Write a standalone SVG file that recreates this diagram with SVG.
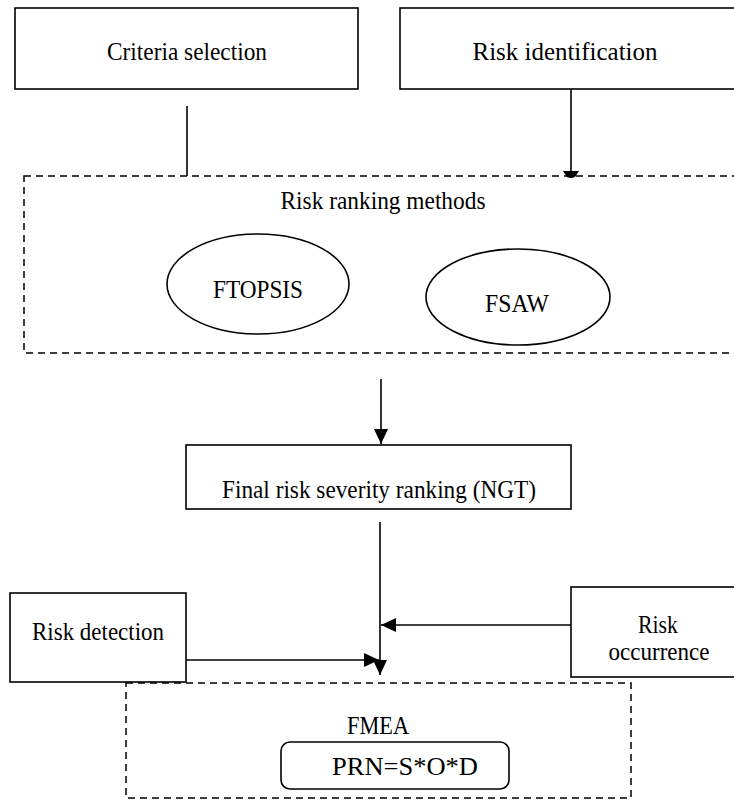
<svg xmlns="http://www.w3.org/2000/svg" width="734" height="800" viewBox="0 0 734 800">
  <style>
    .box { fill: #fff; stroke: #000; stroke-width: 1.6; }
    .dash { fill: none; stroke: #000; stroke-width: 1.5; stroke-dasharray: 7 5; }
    .ell { fill: #fff; stroke: #000; stroke-width: 1.6; }
    .lbl { font-family: 'Liberation Serif', 'DejaVu Serif', serif; font-size: 25px; fill: #000; text-anchor: middle; }
    .conn { fill: none; stroke: #000; stroke-width: 1.6; }
  </style>
  <defs>
    <marker id="arr" markerUnits="userSpaceOnUse" markerWidth="16" markerHeight="14" refX="15" refY="7" orient="auto">
      <path d="M0,0 L15,7 L0,14 Z" fill="#000"/>
    </marker>
  </defs>
  <rect width="734" height="800" fill="#fff"/>

  <g id="risk-ranking-methods">
    <rect class="dash" x="24" y="176" width="720" height="177"/>
    <text class="lbl" font-family="Liberation Serif, serif" x="383" y="209" textLength="205" lengthAdjust="spacingAndGlyphs">Risk ranking methods</text>
  </g>
  <g id="ftopsis">
    <ellipse class="ell" cx="258" cy="284" rx="91" ry="50"/>
    <text class="lbl" font-family="Liberation Serif, serif" x="258" y="298" textLength="90" lengthAdjust="spacingAndGlyphs">FTOPSIS</text>
  </g>
  <g id="fsaw">
    <ellipse class="ell" cx="518" cy="297" rx="92" ry="48"/>
    <text class="lbl" font-family="Liberation Serif, serif" x="517" y="312" textLength="64" lengthAdjust="spacingAndGlyphs">FSAW</text>
  </g>
  <g id="fmea">
    <rect class="dash" x="126" y="683" width="505" height="115"/>
    <text class="lbl" font-family="Liberation Serif, serif" x="378" y="734" textLength="62" lengthAdjust="spacingAndGlyphs">FMEA</text>
  </g>
  <g id="prn">
    <rect class="box" x="281" y="742" width="228" height="47" rx="9" ry="9"/>
    <text class="lbl" font-family="Liberation Serif, serif" x="405" y="775" textLength="146" lengthAdjust="spacingAndGlyphs">PRN=S*O*D</text>
  </g>

  <g id="criteria-selection">
    <rect class="box" x="15" y="8" width="343" height="81"/>
    <text class="lbl" font-family="Liberation Serif, serif" x="187" y="60" textLength="160" lengthAdjust="spacingAndGlyphs">Criteria selection</text>
  </g>
  <g id="risk-identification">
    <rect class="box" x="400" y="8" width="345" height="81"/>
    <text class="lbl" font-family="Liberation Serif, serif" x="565" y="60" textLength="185" lengthAdjust="spacingAndGlyphs">Risk identification</text>
  </g>
  <g id="final-ranking">
    <rect class="box" x="186" y="445" width="385" height="64"/>
    <text class="lbl" font-family="Liberation Serif, serif" x="379" y="498" textLength="314" lengthAdjust="spacingAndGlyphs">Final risk severity ranking (NGT)</text>
  </g>
  <g id="risk-detection">
    <rect class="box" x="10" y="593" width="176" height="89"/>
    <text class="lbl" font-family="Liberation Serif, serif" x="98" y="640" textLength="132" lengthAdjust="spacingAndGlyphs">Risk detection</text>
  </g>
  <g id="risk-occurrence">
    <rect class="box" x="571" y="587" width="175" height="90"/>
    <text class="lbl" font-family="Liberation Serif, serif" x="658" y="633" textLength="40" lengthAdjust="spacingAndGlyphs">Risk</text>
    <text class="lbl" font-family="Liberation Serif, serif" x="659" y="660" textLength="101" lengthAdjust="spacingAndGlyphs">occurrence</text>
  </g>

  <g id="connectors">
    <path class="conn" d="M187,106 V176"/>
    <path class="conn" d="M571,89 V172"/>
    <path d="M563,171 L579,171 L575,177 Q571,179 567,177 Z" fill="#000"/>
    <path class="conn" d="M381,379 V444" marker-end="url(#arr)"/>
    <path class="conn" d="M380,522 V675" marker-end="url(#arr)"/>
    <path class="conn" d="M571,625 H381" marker-end="url(#arr)"/>
    <path class="conn" d="M186,660 H379" marker-end="url(#arr)"/>
  </g>
</svg>
